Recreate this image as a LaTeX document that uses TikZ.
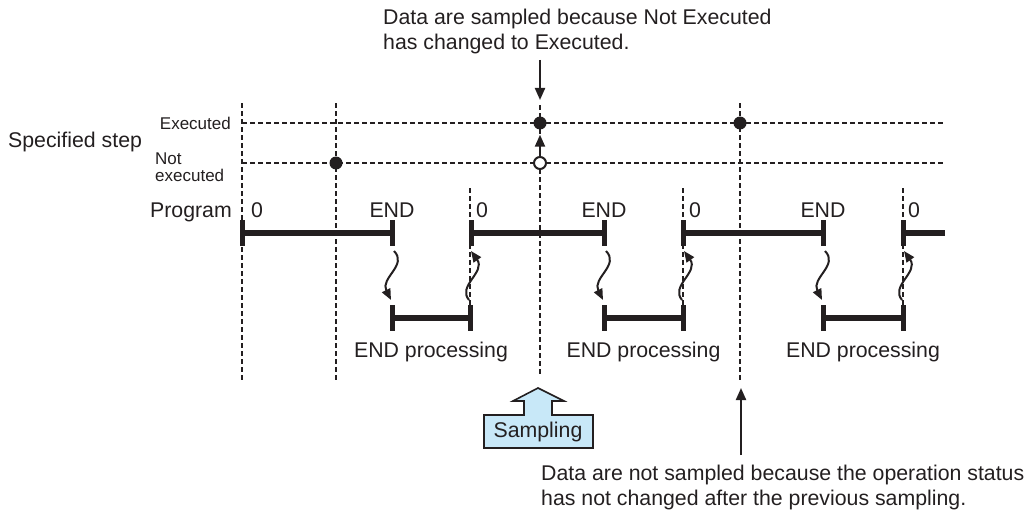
\documentclass[tikz,border=0pt]{standalone}
\usepackage{fontspec}
\setmainfont{Liberation Sans}
\usetikzlibrary{arrows.meta}
\definecolor{sampblue}{RGB}{200,232,248}
\definecolor{ink}{RGB}{35,31,32}
\begin{document}
\begin{tikzpicture}[x=1pt,y=-1pt,
 grid/.style={draw=ink, dash pattern=on 5pt off 3pt, line width=2.1pt},
 bar/.style={draw=ink, line width=6pt},
 tickmark/.style={draw=ink, line width=5pt},
 lbl/.style={font=\fontsize{21.3}{25}\selectfont, inner sep=0pt, text=ink},
 small/.style={font=\fontsize{17}{19}\selectfont, inner sep=0pt, text=ink},
 arr/.style={draw=ink, line width=2.1pt, -{Triangle[length=12pt,width=10pt]}},
 wav/.style={draw=ink, line width=2pt, -{Triangle[length=11pt,width=9pt]}},
 fdot/.style={circle, fill=ink, inner sep=0pt, minimum size=13pt},
 odot/.style={circle, draw=ink, fill=white, line width=2pt, inner sep=0pt, minimum size=12pt},
]
\useasboundingbox (0,0) rectangle (1031,511);

% horizontal dashed state lines
\coordinate (exA) at (242,123); \coordinate (exB) at (945,123);
\coordinate (neA) at (242,163); \coordinate (neB) at (945,163);
\draw[grid] (exA) -- (exB);
\draw[grid] (neA) -- (neB);

% long vertical dashed lines
\foreach \x/\t/\b in {242/103/380, 336/103/380, 540/105/375, 740/103/382}{
  \draw[grid] (\x,\t) -- (\x,\b);
}
% short vertical dashed lines at cycle starts
\foreach \x in {470,683,903}{
  \draw[grid] (\x,188) -- (\x,330);
}

% program bars
\foreach \s/\e in {242/392, 471/604, 683/823}{
  \draw[bar] (\s,233) -- (\e,233);
  \draw[tickmark] (\s,220) -- (\s,246);
  \draw[tickmark] (\e,220) -- (\e,246);
  \node[lbl, anchor=base] at (\e,217) {END};
}
\draw[bar] (903,233) -- (945,233);
\draw[tickmark] (903,220) -- (903,246);

% zero labels
\foreach \x in {251,476,689,908}{
  \node[lbl, anchor=base west] at (\x,217) {0};
}

% END processing bars and wavy arrows
\foreach \s/\e in {392/470, 604/683, 823/903}{
  \draw[bar] (\s,318) -- (\e,318);
  \draw[tickmark] (\s,305) -- (\s,331);
  \draw[tickmark] (\e,305) -- (\e,331);
  \node[lbl, anchor=base] at ({(\s+\e)/2},357) {END processing};
  \draw[wav] (\s+2,251) .. controls (\s+16,265) and (\s-12,278) .. (\s-1,300);
  \draw[wav] (\e-1,300) .. controls (\e-13,286) and (\e+16,272) .. (\e+1,251);
}

% left labels
\node[lbl, anchor=base west] (spec) at (8,147) {Specified step};
\node[small, anchor=base east] (exe) at (231,129) {Executed};
\node[small, anchor=base west] (nt1) at (155,164) {Not};
\node[small, anchor=base west] (nt2) at (155,181) {executed};
\node[lbl, anchor=base east] (prog) at (232,217) {Program};

% state dots
\node[fdot] (d1) at (336,163) {};
\node[fdot] (d2) at (540,123) {};
\node[fdot] (d3) at (740,123) {};
\node[odot] (o1) at (540,163) {};
\draw[arr, shorten >=5pt] (o1.north) -- (d2.south);

% top annotation
\node[lbl, anchor=base west] (t1) at (383,25) {Data are sampled because Not Executed};
\node[lbl, anchor=base west] (t2) at (383,49.5) {has changed to Executed.};
\coordinate (ta) at (540,60); \coordinate (tb) at (540,100);
\draw[arr] (ta) -- (tb);

% bottom annotation
\node[lbl, anchor=base west] (b1) at (541,480) {Data are not sampled because the operation status};
\node[lbl, anchor=base west] (b2) at (541,505) {has not changed after the previous sampling.};
\coordinate (ba) at (741,455); \coordinate (bb) at (741,388);
\draw[arr] (ba) -- (bb);

% Sampling block arrow
\draw[draw=ink, fill=sampblue, line width=1.6pt]
  (538,388) -- (564,401) -- (552,401) -- (552,415) -- (593,415) -- (593,448)
  -- (484,448) -- (484,415) -- (524,415) -- (524,401) -- (513,401) -- cycle;
\node[lbl] (samp) at (538,432) {Sampling};
\end{tikzpicture}
\end{document}
